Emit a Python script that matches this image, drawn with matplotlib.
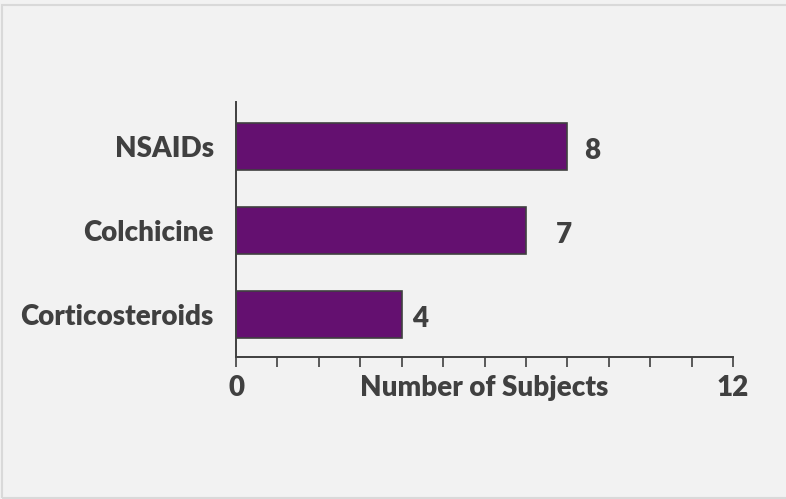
import matplotlib.pyplot as plt
from matplotlib.patches import Rectangle

# treatment counts
treatments = ["Corticosteroids", "Colchicine", "NSAIDs"]
subjects = [4, 7, 8]
label_offsets = [18, 38, 25]  # px from bar end to value label centre

bar_color = "#641070"
text_color = "#404040"
bg = "#f2f2f2"

plt.rcParams['font.family'] = ['Lato', 'DejaVu Sans']
FS = 20

fig = plt.figure(figsize=(7.86, 4.99), dpi=100, facecolor=bg)
W, H = 786, 499
ax = fig.add_axes([236 / W, 1 - 357 / H, (733 - 236) / W, (357 - 102) / H])
ax.set_facecolor(bg)

y = range(len(treatments))
ax.barh(y, subjects, height=0.56, color=bar_color, edgecolor="#404040", linewidth=1.2)
ax.set_xlim(0, 12)
ax.set_ylim(-0.5, 2.53)

for yi, v, off in zip(y, subjects, label_offsets):
    ax.annotate(str(v), (v, yi), xytext=(off * 0.72, -3), textcoords="offset points",
                ha="center", va="center", fontsize=FS, fontweight="heavy", color=text_color)

ax.set_yticks(list(y))
ax.set_yticklabels(treatments, fontsize=FS, fontweight="heavy", color=text_color)
ax.tick_params(axis="y", length=0, pad=16)

ax.set_xticks(range(13))
ax.set_xticklabels(["0"] + [""] * 5 + ["Number of Subjects"] + [""] * 5 + ["12"],
                   fontsize=FS, fontweight="heavy", color=text_color)
ax.tick_params(axis="x", direction="out", length=7, width=1.2, color="#404040", pad=6)

for s in ["top", "right"]:
    ax.spines[s].set_visible(False)
for s in ["left", "bottom"]:
    ax.spines[s].set_color("#404040")
    ax.spines[s].set_linewidth(1.4)

# outer frame
fig.patches.append(Rectangle((1.5 / W, 1 - 497.5 / H), 790 / W, (497.5 - 4.5) / H,
                             transform=fig.transFigure, fill=False,
                             edgecolor="#d9d9d9", linewidth=1.5))

fig.savefig("out.png", dpi=100, facecolor=bg)
